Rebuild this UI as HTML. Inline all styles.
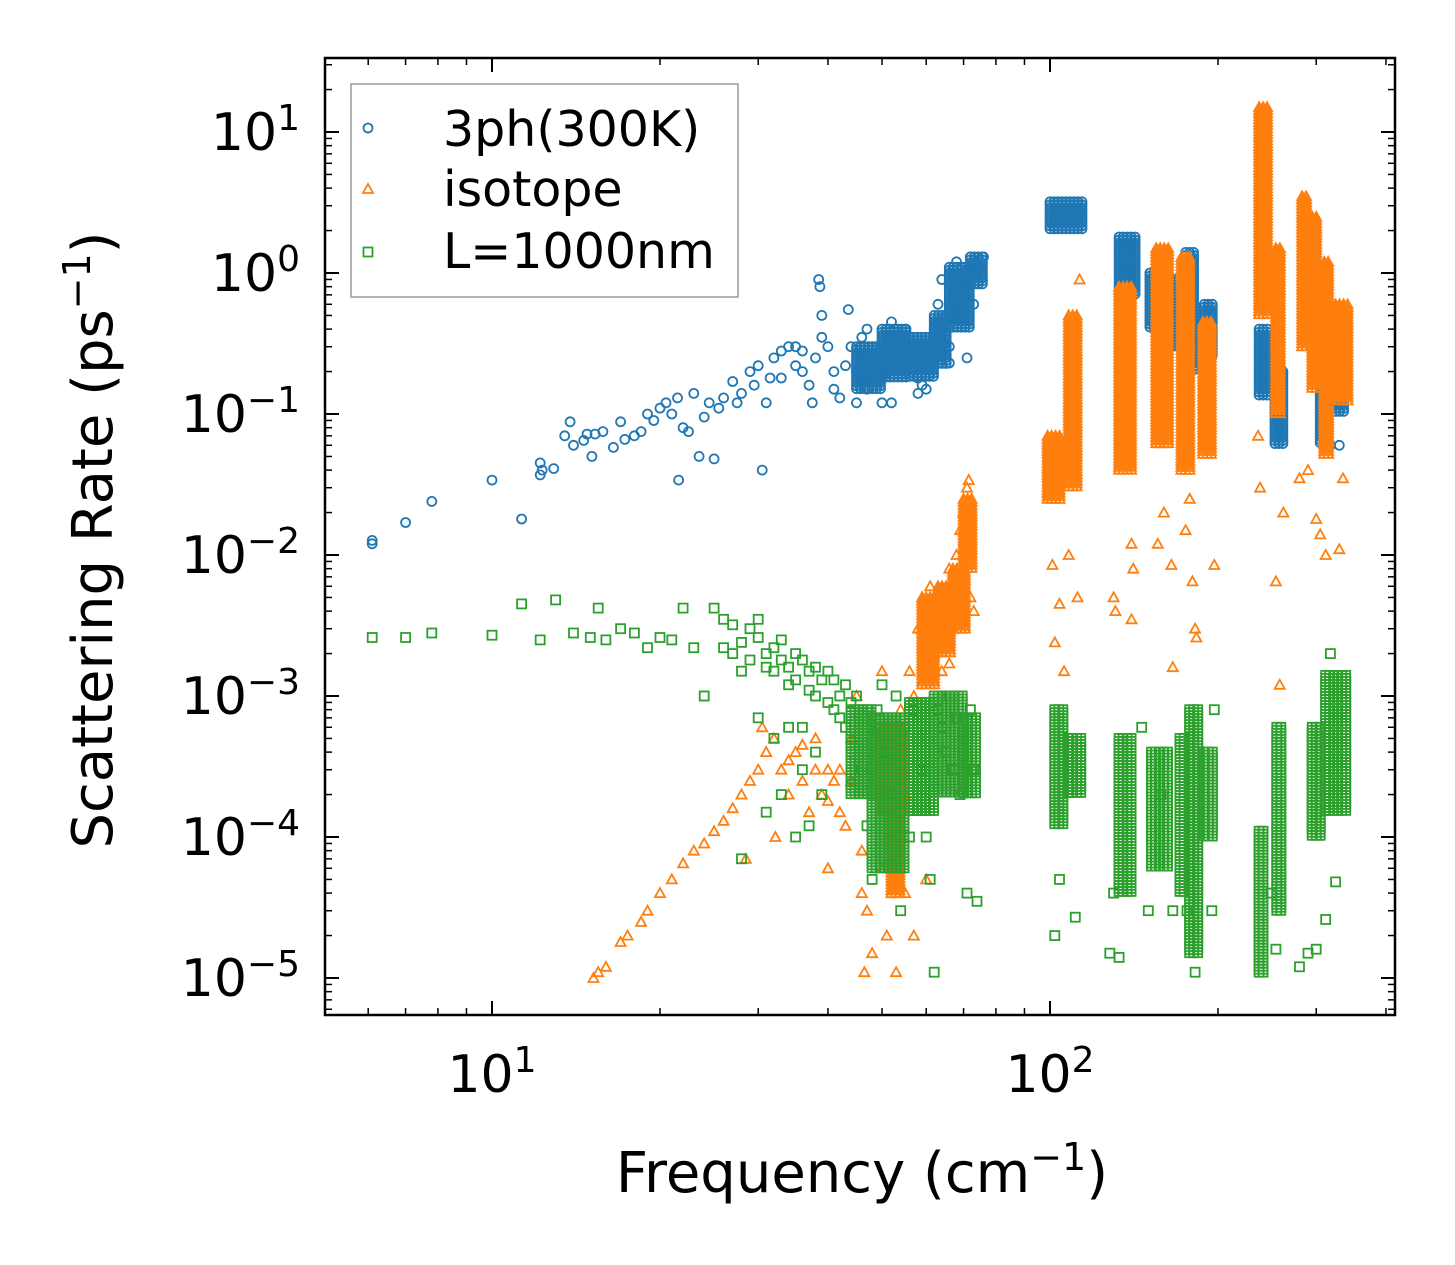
<!DOCTYPE html>
<html><head><meta charset="utf-8"><style>
html,body{margin:0;padding:0;background:#fff;}
svg{display:block;font-family:"DejaVu Sans","Liberation Sans",sans-serif;}
</style></head><body>
<svg id="chart" width="1455" height="1265" viewBox="0 0 1455 1265" xmlns="http://www.w3.org/2000/svg">
<rect width="1455" height="1265" fill="#fff"/>
<g id="marks"></g>
<g id="axes"></g>
<g id="legend">
  <rect x="351" y="84" width="387" height="213" fill="#fff" fill-opacity="0.8" stroke="#999" stroke-width="1.5"/>
  <circle cx="368" cy="128" r="4.5" fill="none" stroke="#1f77b4" stroke-width="1.8"/>
  <text x="443" y="146" font-size="49">3ph(300K)</text>
  <path d="M363,193 L368,184 L373,193 Z" fill="none" stroke="#ff7f0e" stroke-width="1.8"/>
  <text x="443" y="206" font-size="49">isotope</text>
  <rect x="363.5" y="247.5" width="9" height="9" fill="none" stroke="#2ca02c" stroke-width="1.8"/>
  <text x="443" y="268" font-size="49">L=1000nm</text>
</g>
<text x="862" y="1192" font-size="56" text-anchor="middle">Frequency (cm<tspan baseline-shift="super" font-size="38">−1</tspan>)</text>
<text transform="translate(112,540) rotate(-90)" font-size="56" text-anchor="middle">Scattering Rate (ps<tspan baseline-shift="super" font-size="38">−1</tspan>)</text>
</svg>
<script>
// ---- data: scattered points [frequency cm^-1, rate ps^-1]
const threePhPoints = [[6.1,0.012],[6.1,0.0127],[7,0.017],[7.8,0.024],[10,0.034],[11.3,0.018],[12.2,0.037],[12.2,0.045],[12.3,0.04],[12.9,0.041],[13.5,0.07],[13.8,0.088],[14,0.06],[14.6,0.065],[14.8,0.072],[15.1,0.05],[15.3,0.072],[15.8,0.075],[16.5,0.058],[17,0.088],[17.3,0.066],[18,0.07],[18.5,0.075],[19,0.1],[19.5,0.09],[20,0.11],[20.5,0.12],[21,0.1],[21.5,0.13],[21.6,0.034],[22,0.08],[22.5,0.075],[23,0.14],[23.5,0.05],[24,0.095],[24.5,0.12],[25,0.048],[25.5,0.11],[26,0.13],[27,0.17],[27.5,0.12],[28,0.14],[29,0.2],[29.5,0.16],[30,0.22],[30.5,0.04],[31,0.12],[31.5,0.18],[32,0.25],[33,0.18],[34,0.3],[35,0.22],[36,0.28],[37,0.16],[37.5,0.12],[38,0.25],[38.5,0.9],[38.7,0.8],[39,0.5],[40,0.3],[41,0.2],[42,0.13],[43,0.22],[43.5,0.55],[44,0.3],[45,0.2],[46,0.35],[47,0.15],[48,0.25],[49,0.3],[50,0.18],[51,0.2],[52,0.12],[53,0.35],[54,0.25],[55,0.4],[56,0.22],[57,0.3],[58,0.18],[59,0.16],[60,0.15],[61,0.25],[62,0.4],[63,0.6],[64,0.9],[65,0.5],[66,0.3],[67,0.8],[68,1.2],[69,0.7],[70,1.0],[71,0.25],[72,1.3],[73,0.6],[74,1.2],[75,1.1],[76,1.3],[300,0.3],[318,0.06],[330,0.06],[33,0.28],[35,0.3],[36,0.2],[39,0.35],[41,0.15],[45,0.12],[47,0.4],[50,0.12],[52,0.45],[58,0.14],[66,0.23]];
const isotopePoints = [[15.2,1e-5],[15.5,1.1e-5],[16,1.2e-5],[17,1.8e-5],[17.5,2e-5],[18.5,2.5e-5],[19,3e-5],[20,4e-5],[21,5e-5],[22,6.5e-5],[23,8e-5],[24,9e-5],[25,1.1e-4],[26,1.3e-4],[27,1.6e-4],[28,2e-4],[28.5,7e-5],[29,2.5e-4],[30,3e-4],[30.5,6e-4],[31,4e-4],[32,5e-4],[32.2,1e-4],[33,3e-4],[34,2e-4],[35,4e-4],[36,2.5e-4],[37,1.5e-4],[38,3e-4],[39,2e-4],[40,1.8e-4],[41,2.5e-4],[42,3e-4],[43,1.2e-4],[44,5e-4],[45,1e-3],[46,8e-5],[46.5,1.1e-5],[47,3e-5],[48,1.5e-5],[49,6e-4],[50,1.5e-3],[51,2e-5],[52,4e-4],[53,1.1e-5],[54,8e-4],[55,2e-4],[56,1.5e-3],[57,1e-3],[58,3e-3],[59,5e-3],[60,2e-3],[61,6e-3],[62,3e-3],[63,4e-3],[64,1.5e-3],[65,5e-3],[66,8e-3],[67,3e-3],[68,1e-2],[69,1.5e-2],[70,2e-2],[71,3e-2],[72,5e-3],[73,4e-3],[71.5,3.4e-2],[66,1.7e-3],[40,6e-5],[34,3.5e-4],[36,4.5e-4],[38,5e-4],[40,3e-4],[42,1.5e-4],[44,2.5e-4],[46,4e-5],[50,6e-5],[55,4e-5],[57,2e-5],[60,5e-5],
[101,0.0085],[102,0.0024],[104,0.0045],[106,0.0015],[108,0.01],[112,0.005],[113,0.9],[130,0.005],[131,0.004],[140,0.012],[141,0.008],[140,0.0035],[156,0.012],[160,0.02],[165,0.0085],[166,0.0016],[175,0.015],[178,0.025],[180,0.0065],[182,0.003],[183,0.0026],[197,0.0085],[236,0.07],[238,0.03],[254,0.0065],[258,0.0012],[262,0.02],[280,0.035],[290,0.04],[300,0.018],[305,0.014],[312,0.01],[330,0.011],[335,0.035]];
const boundaryPoints = [[6.1,2.6e-3],[7,2.6e-3],[7.8,2.8e-3],[10,2.7e-3],[11.3,4.5e-3],[12.2,2.5e-3],[13,4.8e-3],[14,2.8e-3],[15,2.6e-3],[15.5,4.2e-3],[16,2.5e-3],[17,3e-3],[18,2.8e-3],[19,2.2e-3],[20,2.6e-3],[21,2.5e-3],[22,4.2e-3],[23,2.2e-3],[24,1e-3],[25,4.2e-3],[26,3.5e-3],[27,2e-3],[28,1.5e-3],[29,3e-3],[30,3.5e-3],[31,2e-3],[32,1.5e-3],[33,2.5e-3],[34,1.2e-3],[35,2e-3],[36,6e-4],[37,1.5e-3],[38,1e-3],[39,2e-4],[40,1.5e-3],[41,8e-4],[42,1e-3],[43,6e-4],[44,4e-4],[45,1e-3],[46,3e-4],[47,1.2e-4],[48,5e-5],[49,8e-4],[50,1.2e-3],[51,4e-4],[52,2e-4],[53,1e-3],[54,3e-5],[55,6e-4],[56,1e-4],[57,8e-4],[58,5e-4],[59,3e-4],[60,1e-4],[61,5e-5],[62,1.1e-5],[63,8e-4],[64,6e-4],[65,4e-4],[66,1e-3],[67,3e-4],[68,7e-4],[69,2e-4],[70,5e-4],[71,4e-5],[72,8e-4],[73,3e-4],[74,3.5e-5],[28,7e-5],[31,1.5e-4],[33,2e-4],[35,1e-4],[37,1.2e-4],
[26,2.2e-3],[27,3.2e-3],[28,2.4e-3],[29,1.8e-3],[30,2.6e-3],[31,1.6e-3],[32,2.2e-3],[33,1.8e-3],[34,1.6e-3],[35,1.3e-3],[36,1.8e-3],[37,1.1e-3],[38,1.6e-3],[39,1.3e-3],[40,9e-4],[41,1.3e-3],[42,7e-4],[43,1.2e-3],[44,9e-4],[30,7e-4],[32,5e-4],[34,6e-4],[36,3e-4],[38,4e-4],
[102,2e-5],[104,5e-5],[111,2.7e-5],[128,1.5e-5],[130,4e-5],[133,1.4e-5],[146,6e-4],[150,3e-5],[158,2e-4],[166,3e-5],[176,3e-5],[182,1.1e-5],[195,3e-5],[197,8e-4],[249,4e-5],[254,1.6e-5],[280,1.2e-5],[290,1.5e-5],[300,1.6e-5],[312,2.6e-5],[325,4.8e-5],[318,2e-3]];
// ---- dense bands [f1, f2, r1, r2] where points pile up
const threePhBands = [[100,115,2.0,3.2],[133,143,0.7,1.8],[151,161,0.4,1.0],[167,172,0.3,0.9],[175,182,0.2,1.4],[189,197,0.25,0.6],[237,246,0.13,0.4],[253,263,0.06,0.2],[305,320,0.06,0.3],[325,340,0.1,0.5],[45,50,0.15,0.3],[50,56,0.18,0.4],[56,62,0.18,0.35],[62,66,0.22,0.5],[66,72,0.4,1.1],[72,76,0.8,1.3]];
const isotopeBands = [[99,104,0.025,0.07],[108,113,0.03,0.5],[133,141,0.04,0.8],[155,163,0.06,1.5],[172,180,0.04,1.3],[188,196,0.05,0.45],[237,245,0.5,15],[254,262,0.1,1.5],[283,290,0.3,3.5],[295,302,0.15,2.5],[310,320,0.05,1.2],[325,343,0.12,0.6],[59,63,1.2e-3,5e-3],[63,67,2e-3,6e-3],[67,71,3e-3,8e-3],[70,73,8e-3,2.5e-2],[50,55,1.5e-4,6e-4],[52,54,4e-5,1.5e-4]];
const boundaryBands = [[102,106,1.2e-4,8e-4],[108,114,2e-4,5e-4],[133,140,4e-5,5e-4],[152,163,6e-5,4e-4],[171,176,4e-5,5e-4],[178,184,1.5e-5,8e-4],[189,196,1e-4,4e-4],[237,244,1.1e-5,1.1e-4],[255,262,3e-5,6e-4],[295,305,1e-4,6e-4],[312,343,1.5e-4,1.4e-3],[44,48,2e-4,8e-4],[48,55,6e-5,7e-4],[56,62,1.5e-4,9e-4],[62,70,2e-4,1e-3],[70,74,2e-4,7e-4]];
const xTickValues = [10,100];
const xTickLabels = ["1","2"];
const yTickValues = [10,1,0.1,0.01,0.001,0.0001,0.00001];
const yTickLabels = ["1","0","−1","−2","−3","−4","−5"];

const NS="http://www.w3.org/2000/svg";
const L=325,R=1395,T=58,B=1015;
function xs(f){return 492+558*(Math.log10(f)-1);}
function ys(r){return 273-141*Math.log10(r);}
const marks=document.getElementById('marks');
const axes=document.getElementById('axes');
function mk(tag,attrs,parent){const e=document.createElementNS(NS,tag);for(const k in attrs)e.setAttribute(k,attrs[k]);parent.appendChild(e);return e;}
function marker(kind,x,y,g){
  let e;
  if(kind==='circle'){e=mk('circle',{cx:x.toFixed(1),cy:y.toFixed(1),r:4.5,fill:'none',stroke:'#1f77b4','stroke-width':1.8},g);}
  else if(kind==='tri'){e=mk('path',{d:`M${(x-5).toFixed(1)},${(y+4).toFixed(1)} L${x.toFixed(1)},${(y-5).toFixed(1)} L${(x+5).toFixed(1)},${(y+4).toFixed(1)} Z`,fill:'none',stroke:'#ff7f0e','stroke-width':1.8},g);}
  else {e=mk('rect',{x:(x-4.5).toFixed(1),y:(y-4.5).toFixed(1),width:9,height:9,fill:'none',stroke:'#2ca02c','stroke-width':1.8},g);}
  return e;
}
function series(name,kind,points,bands){
  const g=mk('g',{},marks);
  
  
  bands.forEach(b=>{
    const x1=xs(b[0]),x2=xs(b[1]),y1=ys(b[3]),y2=ys(b[2]);
    for(let x=x1;x<=x2+0.1;x+=4){for(let y=y1;y<=y2+0.1;y+=3){
      const m=marker(kind,x,y,g);
      
      
    }}
  });
  points.forEach(p=>{
    const m=marker(kind,xs(p[0]),ys(p[1]),g);
    
    
  });
}
series('series-3ph','circle',threePhPoints,threePhBands);
series('series-isotope','tri',isotopePoints,isotopeBands);
series('series-boundary','square',boundaryPoints,boundaryBands);

const frame=mk('rect',{x:L,y:T,width:R-L,height:B-T,fill:'none',stroke:'#000','stroke-width':2.5},axes);


for(let d=0;d<3;d++){for(let k=1;k<10;k++){
  const v=k*Math.pow(10,d); const x=xs(v); if(x<L||x>R) continue;
  const len=(k===1)?14:7;
  mk('line',{x1:x,x2:x,y1:B,y2:B-len,stroke:'#000','stroke-width':k===1?2:1.5},axes);
  mk('line',{x1:x,x2:x,y1:T,y2:T+len,stroke:'#000','stroke-width':k===1?2:1.5},axes);
}}
xTickValues.forEach((v,i)=>{
  const t=mk('text',{x:xs(v),y:1092,'font-size':52,'text-anchor':'middle'},axes);
  
  
  t.innerHTML='10<tspan baseline-shift="super" font-size="36">'+xTickLabels[i]+'</tspan>';
});
for(let d=-6;d<2;d++){for(let k=1;k<10;k++){
  const v=k*Math.pow(10,d); const y=ys(v); if(y<T||y>B) continue;
  const len=(k===1)?14:7;
  mk('line',{x1:L,x2:L+len,y1:y,y2:y,stroke:'#000','stroke-width':k===1?2:1.5},axes);
  mk('line',{x1:R,x2:R-len,y1:y,y2:y,stroke:'#000','stroke-width':k===1?2:1.5},axes);
}}
yTickValues.forEach((v,i)=>{
  const t=mk('text',{x:300,y:ys(v)+18,'font-size':52,'text-anchor':'end'},axes);
  
  
  t.innerHTML='10<tspan baseline-shift="super" font-size="36">'+yTickLabels[i]+'</tspan>';
});
</script>
</body></html>
